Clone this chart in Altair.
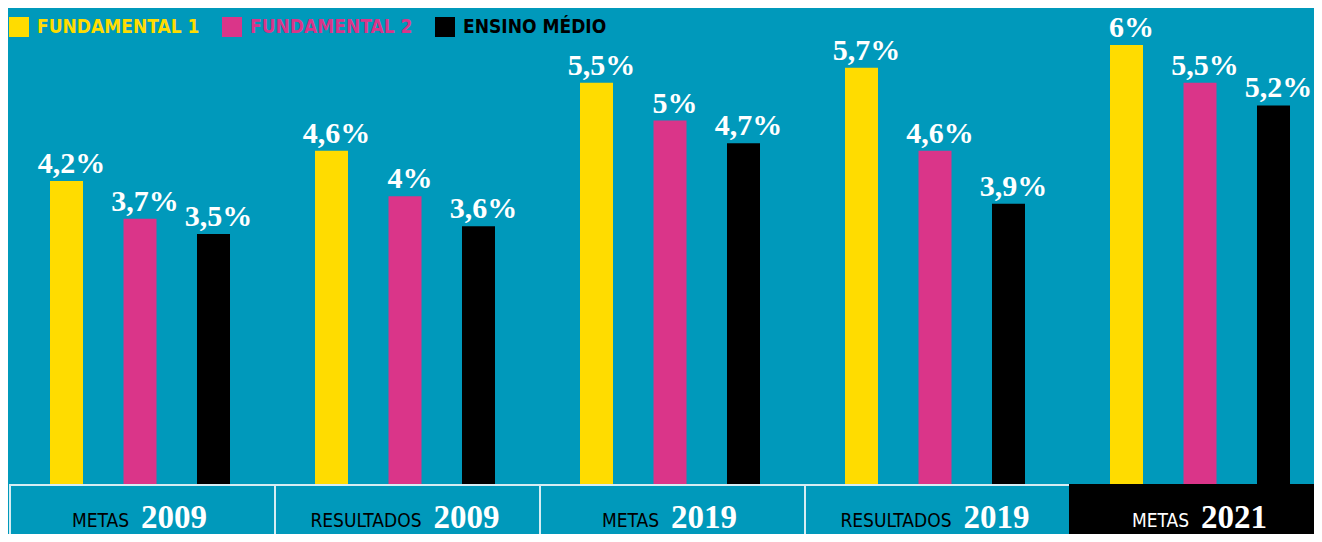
import altair as alt
import pandas as pd

# ---- data -------------------------------------------------------------
grupos = ["METAS 2009", "RESULTADOS 2009", "METAS 2019", "RESULTADOS 2019", "METAS 2021"]
tipos = ["METAS", "RESULTADOS", "METAS", "RESULTADOS", "METAS"]
anos = ["2009", "2009", "2019", "2019", "2021"]
series = ["FUNDAMENTAL 1", "FUNDAMENTAL 2", "ENSINO MÉDIO"]
fundamental_1 = [4.2, 4.6, 5.5, 5.7, 6.0]
fundamental_2 = [3.7, 4.0, 5.0, 4.6, 5.5]
ensino_medio = [3.5, 3.6, 4.7, 3.9, 5.2]
cores = ["#ffdc00", "#da3589", "#000000"]
destaque = "METAS 2021"

BG = "#0099bb"
BORDA = "#d6edf3"
SERIF = "Liberation Serif, DejaVu Serif, serif"
NARROW = "DejaVu Sans Condensed, Liberation Sans Narrow, sans-serif"

rows = []
for s, vals in zip(series, [fundamental_1, fundamental_2, ensino_medio]):
    for g, v in zip(grupos, vals):
        rows.append({"grupo": g, "serie": s, "valor": v})
df = pd.DataFrame(rows)
box = pd.DataFrame({"grupo": grupos, "tipo": tipos, "ano": anos})

W = 1306
BAND = 265
x_scale = alt.Scale(domain=grupos, range=[2, 2 + 5 * BAND], paddingInner=0, paddingOuter=0)
xo_scale = alt.Scale(domain=series, range=[40, 220], paddingInner=0.551, paddingOuter=0)
y_scale = alt.Scale(domain=[0.19, 6.49], zero=False, nice=False)
color_scale = alt.Scale(domain=series, range=cores)

base = alt.Chart(df).encode(
    x=alt.X("grupo:N", scale=x_scale, axis=None, sort=grupos),
    xOffset=alt.XOffset("serie:N", scale=xo_scale, sort=series),
    y=alt.Y("valor:Q", scale=y_scale, axis=None),
)

bars = base.mark_bar(clip=True).encode(
    color=alt.Color(
        "serie:N",
        scale=color_scale,
        sort=series,
        legend=alt.Legend(
            title=None,
            orient="none",
            legendX=1,
            legendY=9,
            direction="horizontal",
            symbolType="square",
            symbolSize=400,
            symbolStrokeWidth=0,
            symbolOpacity=1,
            labelFont=NARROW,
            labelFontSize=19,
            labelFontWeight="bold",
            labelColor={"expr": "scale('color', datum.value)"},
            labelOffset=8,
            columnPadding=22,
            padding=0,
            labelLimit=400,
        ),
    )
)

labels = base.transform_calculate(
    rotulo="replace(format(datum.valor, '.1~f'), '.', ',') + '%'"
).mark_text(
    font=SERIF, fontSize=30, fontWeight="bold", color="white",
    baseline="alphabetic", dy=-8, dx=5, clip=True,
).encode(text="rotulo:N")

top = alt.layer(bars, labels).properties(width=W, height=476)

bx = alt.X("grupo:N", scale=x_scale, axis=None, sort=grupos)
is_dest = alt.datum.grupo == destaque

boxes = alt.Chart(box).mark_rect(clip=True, strokeWidth=2).encode(
    x=bx,
    y=alt.value(1),
    y2=alt.value(80),
    fill=alt.condition(is_dest, alt.value("#000000"), alt.value(BG)),
    stroke=alt.condition(is_dest, alt.value("#000000"), alt.value(BORDA)),
)

# label "TIPO ANO" centred in each box: split point computed from text length
txt_base = alt.Chart(box).transform_calculate(
    off=f"{BAND / 2} + (length(datum.tipo) * 11 - 12 - 70) / 2",
    off2=f"{BAND / 2} + (length(datum.tipo) * 11 - 12 - 70) / 2 + 12",
)

tipo_txt = txt_base.mark_text(
    align="right", baseline="alphabetic", font=NARROW, fontSize=19, clip=True
).encode(
    x=bx,
    xOffset=alt.XOffset("off:Q", scale=None),
    y=alt.value(43),
    text="tipo:N",
    color=alt.condition(is_dest, alt.value("white"), alt.value("black")),
)

ano_txt = txt_base.mark_text(
    align="left", baseline="alphabetic", font=SERIF, fontSize=33,
    fontWeight="bold", color="white", clip=True,
).encode(
    x=bx,
    xOffset=alt.XOffset("off2:Q", scale=None),
    y=alt.value(44),
    text="ano:N",
)

bottom = alt.layer(boxes, tipo_txt, ano_txt).properties(width=W, height=50)

chart = (
    alt.vconcat(top, bottom, spacing=0)
    .configure(background=BG, padding=0)
    .configure_view(stroke=None)
    .configure_concat(spacing=0)
)

chart.save("out.html", embed_options={"renderer": "svg", "actions": False})
